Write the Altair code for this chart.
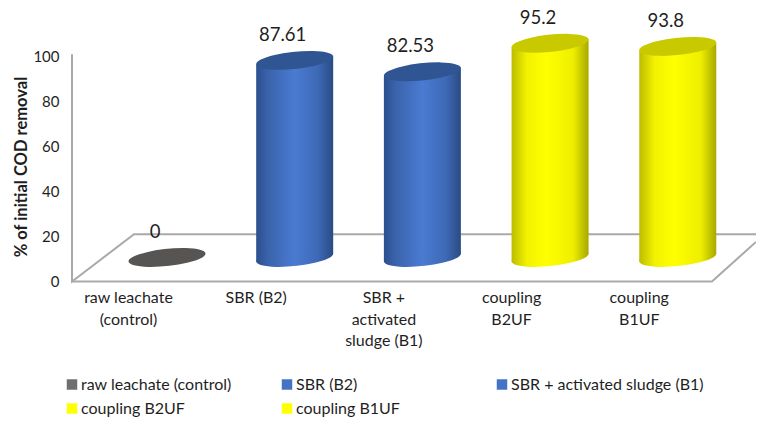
import altair as alt
import pandas as pd

categories = ["raw leachate (control)", "SBR (B2)", "SBR + activated sludge  (B1)", "coupling B2UF", "coupling B1UF"]
values = [0, 87.61, 82.53, 95.2, 93.8]
value_text = ["0", "87.61", "82.53", "95.2", "93.8"]
tick_lines = [["raw leachate", "(control)"], ["SBR (B2)"], ["SBR +", "activated", "sludge  (B1)"], ["coupling", "B2UF"], ["coupling", "B1UF"]]
legend_colors = ["#716e6e", "#4472c4", "#4472c4", "#ffff00", "#ffff00"]
cap_colors = ["#575454", "#2f5592", "#2f5592", "#c9c900", "#c9c900"]

FONT = "Lato"
TEXT = "#1f1f1f"
DEPTH_Y = 10.67   # 3-D floor offset, y units
DEPTH_X = 0.3054  # 3-D floor offset, category units
HALF = 0.3015     # half bar width, category units
TILT = 1.78       # cap slope, y units
ELLIPSE = "M-0.9945,0.1045A1,0.22,-6,1,1,0.9945,-0.1045A1,0.22,-6,1,1,-0.9945,0.1045Z"
ELLIPSE_SIZE = 5990

x_scale = alt.Scale(domain=[-0.4385, 4.918], nice=False, zero=False)
y_scale = alt.Scale(domain=[0, 100], nice=False, zero=False)

bars = pd.DataFrame({
    "category": categories,
    "idx": range(5),
    "value": values,
    "label": value_text,
    "cap": cap_colors,
})
bars["cx"] = bars["idx"] + DEPTH_X
bars["base"] = DEPTH_Y
bars["top"] = bars["value"] + DEPTH_Y

rows = []
for _, b in bars.iterrows():
    for side in (-1, 1):
        rows.append({"category": b["category"], "x": b["cx"] + side * HALF,
                     "y": b["top"] + side * TILT, "y2": b["base"] + side * TILT})
body = pd.DataFrame(rows)


def grad(stops):
    return alt.Gradient(gradient="linear", x1=0, x2=1, y1=0, y2=0,
                        stops=[alt.GradientStop(offset=o, color=c) for o, c in stops])


blue = grad([(0, "#2b4f8e"), (0.15, "#3a63ab"), (0.5, "#4a7ad2"), (0.8, "#3e69b6"), (1, "#2a4c84")])
yellow = grad([(0, "#bcbc00"), (0.2, "#f2f200"), (0.45, "#ffff00"), (0.8, "#eeee00"), (1, "#a8a800")])

floor_seg = ["a"] * 4 + ["b"] * 3
floor_ord = [0, 1, 2, 3, 0, 1, 2]
floor_x = [-0.4385, -0.4385, 0.047, 4.918, -0.4385, 4.573, 4.918]
floor_y = [101, 0, 21, 21, 0, 0, 17.6]
floor = pd.DataFrame({"seg": floor_seg, "o": floor_ord, "x": floor_x, "y": floor_y})

label_expr = "[" + ",".join("[" + ",".join(f"'{s}'" for s in ls) + "]" for ls in tick_lines) + "][datum.value]"

x_enc = alt.X("x:Q", scale=x_scale, axis=alt.Axis(
    values=list(range(5)), title=None, domain=False, ticks=False, grid=False,
    labelExpr=label_expr, labelFont=FONT, labelFontSize=16, labelColor=TEXT,
    labelPadding=8, labelLineHeight=21.5, labelAngle=0, labelBaseline="top", labelOverlap=False))
y_enc = alt.Y("y:Q", scale=y_scale, axis=alt.Axis(
    values=[0, 20, 40, 60, 80, 100], title="% of initial COD removal", domain=False, ticks=False, grid=False,
    labelFont=FONT, labelFontSize=15, labelColor=TEXT, labelPadding=13,
    titleFont=FONT, titleFontSize=16.5, titleFontWeight="bold", titleColor=TEXT,
    titleX=-43, titleY=110))

floor_layer = alt.Chart(floor).mark_line(color="#a9a9a9", strokeWidth=2, clip=False).encode(
    x=x_enc, y=y_enc, detail="seg:N", order="o:Q")


def bottom(df, g):
    return alt.Chart(df).mark_point(shape=ELLIPSE, size=ELLIPSE_SIZE, filled=True, opacity=1, color=g).encode(
        x=alt.X("cx:Q", scale=x_scale), y=alt.Y("base:Q", scale=y_scale))


def cyl(df, g):
    return alt.Chart(df).mark_area(color=g, opacity=1).encode(
        x=alt.X("x:Q", scale=x_scale), y=alt.Y("y:Q", scale=y_scale), y2="y2:Q", detail="category:N")


blue_bars = bars[bars["idx"].isin([1, 2])]
yellow_bars = bars[bars["idx"].isin([3, 4])]
blue_body = body[body["category"].isin(categories[1:3])]
yellow_body = body[body["category"].isin(categories[3:5])]

caps = alt.Chart(bars).mark_point(shape=ELLIPSE, size=ELLIPSE_SIZE, filled=True, opacity=1).encode(
    x=alt.X("cx:Q", scale=x_scale), y=alt.Y("top:Q", scale=y_scale),
    fill=alt.Fill("cap:N", scale=None))

labels = alt.Chart(bars).mark_text(font=FONT, fontSize=18.5, color=TEXT, dx=-12, dy=-25.5).encode(
    x=alt.X("cx:Q", scale=x_scale), y=alt.Y("top:Q", scale=y_scale), text="label:N")

legend_layer = alt.Chart(bars).mark_square(size=0, opacity=1).encode(
    x=alt.X("cx:Q", scale=x_scale), y=alt.Y("base:Q", scale=y_scale),
    color=alt.Color("category:N", scale=alt.Scale(domain=categories, range=legend_colors),
                    sort=categories,
                    legend=alt.Legend(title=None, orient="none", legendX=-8, legendY=320, columns=3,
                                      direction="horizontal",
                                      gridAlign="all", columnPadding=1, rowPadding=8,
                                      symbolType="square", symbolSize=110, symbolOpacity=1,
                                      symbolStrokeWidth=0, labelFont=FONT, labelFontSize=16,
                                      labelColor=TEXT, labelLimit=260, labelOffset=1, padding=0)))

chart = alt.layer(
    floor_layer,
    bottom(blue_bars, blue), bottom(yellow_bars, yellow),
    cyl(blue_body, blue), cyl(yellow_body, yellow),
    caps, labels, legend_layer,
).properties(
    width=684, height=225, background="white",
    autosize=alt.AutoSizeParams(type="none"),
    padding={"left": 64, "top": 48.5, "right": 0, "bottom": 135.5},
).configure_view(stroke=None)

chart.save("out.html", embed_options={"renderer": "svg", "actions": False})
